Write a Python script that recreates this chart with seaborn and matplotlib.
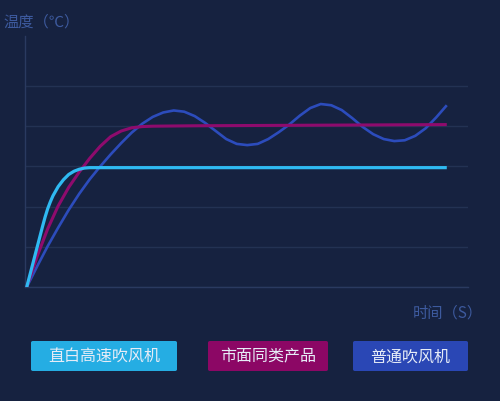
"""
Heating curve comparison of three hair dryers
"""

# import section
import pandas as pd
import seaborn as sns
import matplotlib.pyplot as plt
from matplotlib.patches import FancyBboxPatch

# series names
NAMES = ['直白高速吹风机', '市面同类产品', '普通吹风机']

# temperature readings per series (time in s, value in grid units)
FAST_T = [0, 0.25, 0.5, 0.75, 0.875, 1.0, 1.125, 1.25, 1.5, 1.75, 2.0, 2.25, 2.5,
          2.75, 3.0, 10, 20]
FAST_V = [0, 0.5, 1.0, 1.5, 1.74, 1.95, 2.12, 2.27, 2.5, 2.67, 2.8, 2.88, 2.93,
          2.96, 2.97, 2.97, 2.97]

MARKET_T = [0, 0.5, 1.0, 1.5, 2.0, 2.5, 3.0, 3.5, 4.0, 4.5, 5.0, 5.5, 6.0, 8, 12, 16, 20]
MARKET_V = [0, 0.77, 1.45, 2.02, 2.48, 2.86, 3.2, 3.5, 3.74, 3.88, 3.96, 3.99, 4.0,
            4.01, 4.02, 4.03, 4.04]

NORMAL_T = [0, 0.5, 1.0, 1.5, 2.0, 2.5, 3.0, 3.5, 4.0, 4.5, 5.0, 5.5, 6.0, 6.5, 7.0,
            7.5, 8.0, 8.5, 9.0, 9.5, 10.0, 10.5, 11.0, 11.5, 12.0, 12.5, 13.0, 13.5,
            14.0, 14.5, 15.0, 15.5, 16.0, 16.5, 17.0, 17.5, 18.0, 18.5, 19.0, 19.5, 20.0]
NORMAL_V = [0, 0.52, 1.02, 1.48, 1.92, 2.32, 2.68, 3.0, 3.3, 3.58, 3.84, 4.06, 4.23,
            4.34, 4.39, 4.36, 4.25, 4.08, 3.88, 3.68, 3.56, 3.53, 3.56, 3.68, 3.85,
            4.04, 4.26, 4.45, 4.55, 4.52, 4.4, 4.2, 3.98, 3.8, 3.68, 3.63, 3.65,
            3.76, 3.95, 4.22, 4.52]

COLORS = ['#2fbaf2', '#8e0b6d', '#2c4cbc']
BOX_COLORS = ['#25ade3', '#8c0765', '#2a47b5']

BG = '#162240'
GRID = '#233253'
LABEL = '#3d5a9e'

sns.set_theme(style='dark')
plt.rcParams['font.family'] = ['Noto Sans CJK SC', 'DejaVu Sans']

fig = plt.figure(figsize=(5, 4.02), dpi=100, facecolor=BG)
ax = fig.add_axes([0.05, 0.283, 0.886, 0.625])
ax.set_facecolor(BG)

frames = [
    pd.DataFrame({'t': NORMAL_T, 'v': NORMAL_V}),
    pd.DataFrame({'t': MARKET_T, 'v': MARKET_V}),
    pd.DataFrame({'t': FAST_T, 'v': FAST_V}),
]
widths = [1.9, 2.2, 2.3]
for df, col, lw in zip(frames, COLORS[::-1], widths):
    sns.lineplot(data=df, x='t', y='v', color=col, linewidth=lw, ax=ax,
                 solid_capstyle='butt', solid_joinstyle='round', zorder=3)

ax.set_xlim(-0.08, 21.01)
ax.set_ylim(0, 6.24)
ax.set_yticks([0, 1, 2, 3, 4, 5])
ax.set_xticks([])
ax.tick_params(left=False, labelleft=False, bottom=False)
ax.grid(axis='y', color=GRID, linewidth=1)
ax.grid(axis='x', visible=False)
ax.set_xlabel('')
ax.set_ylabel('')
for side in ['top', 'right']:
    ax.spines[side].set_visible(False)
ax.spines['left'].set_color('#2a3a60')
ax.spines['bottom'].set_color('#2a3a60')
ax.spines['left'].set_linewidth(1)
ax.spines['bottom'].set_linewidth(1)

fig.text(3 / 500, 1 - 22 / 402, '温度（℃）', color=LABEL, fontsize=11,
         va='center', ha='left')
fig.text(413 / 500, 1 - 313 / 402, '时间（S）', color=LABEL, fontsize=11,
         va='center', ha='left')

# legend boxes
boxes = [(31, 177), (208, 328), (353, 468)]
for (x0, x1), name, col in zip(boxes, NAMES, BOX_COLORS):
    y0, y1 = 342, 372
    patch = FancyBboxPatch((x0 / 500, 1 - y1 / 402), (x1 - x0) / 500, (y1 - y0) / 402,
                           boxstyle='round,pad=0,rounding_size=0.004',
                           transform=fig.transFigure, facecolor=col,
                           edgecolor='none')
    fig.patches.append(patch)
    fig.text((x0 + x1) / 2 / 500, 1 - (y0 + y1) / 2 / 402, name, color='#e6ecf7',
             fontsize=11.5, ha='center', va='center')

plt.savefig('out.png', facecolor=BG)
